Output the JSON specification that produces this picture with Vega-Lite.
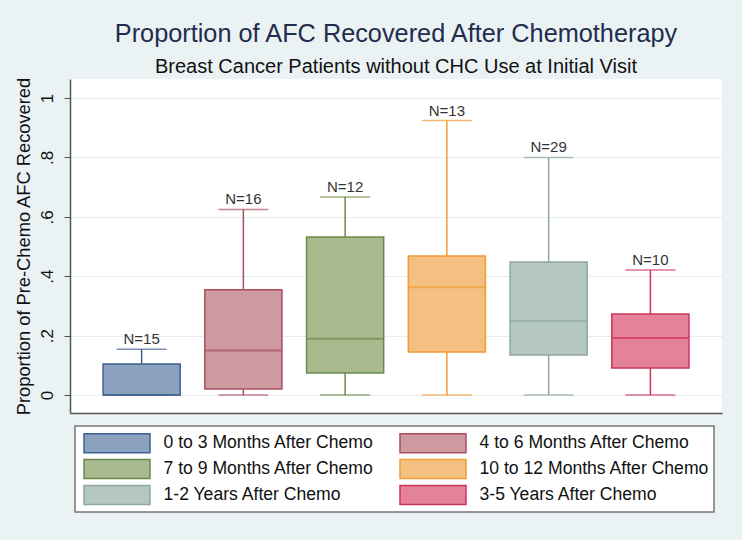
{
  "$schema": "https://vega.github.io/schema/vega-lite/v6.json",
  "width": 652,
  "height": 334,
  "autosize": "none",
  "padding": {"left": 70, "top": 79, "right": 20, "bottom": 127},
  "background": "#eaf2f3",
  "view": {"fill": "white", "stroke": null},
  "config": {
    "legend": {
      "fillColor": "white",
      "strokeColor": "#777777",
      "padding": 4,
      "columnPadding": 21,
      "rowPadding": 0,
      "symbolStrokeWidth": 1.5,
      "symbolOffset": 4,
      "labelOffset": 54.5,
      "labelFont": "Liberation Sans",
      "labelFontSize": 17.6,
      "labelColor": "#111111",
      "labelLimit": 400
    }
  },
  "title": {
    "text": "Proportion of AFC Recovered After Chemotherapy",
    "subtitle": "Breast Cancer Patients without CHC Use at Initial Visit",
    "anchor": "middle",
    "font": "Liberation Sans",
    "fontSize": 25.3,
    "fontWeight": "normal",
    "color": "#232c4d",
    "subtitleFont": "Liberation Sans",
    "subtitleFontSize": 20,
    "subtitleColor": "#111111",
    "subtitlePadding": 10,
    "offset": 0
  },
  "data": {
    "values": [
      {"group": "0 to 3 Months After Chemo", "label": "N=15", "lo": 0, "q1": 0, "med": 0, "q3": 0.104, "hi": 0.154},
      {"group": "4 to 6 Months After Chemo", "label": "N=16", "lo": 0, "q1": 0.02, "med": 0.15, "q3": 0.354, "hi": 0.625},
      {"group": "7 to 9 Months After Chemo", "label": "N=12", "lo": 0, "q1": 0.074, "med": 0.189, "q3": 0.532, "hi": 0.667},
      {"group": "10 to 12 Months After Chemo", "label": "N=13", "lo": 0, "q1": 0.145, "med": 0.363, "q3": 0.468, "hi": 0.924},
      {"group": "1-2 Years After Chemo", "label": "N=29", "lo": 0, "q1": 0.135, "med": 0.249, "q3": 0.448, "hi": 0.8},
      {"group": "3-5 Years After Chemo", "label": "N=10", "lo": 0, "q1": 0.091, "med": 0.192, "q3": 0.273, "hi": 0.421}
    ]
  },
  "encoding": {
    "x": {
      "field": "group",
      "type": "nominal",
      "sort": null,
      "scale": {"paddingInner": 0.242, "paddingOuter": 0.325},
      "axis": {"labels": false, "ticks": false, "title": null, "domainColor": "#555555", "domainWidth": 1.5, "grid": false}
    }
  },
  "layer": [
    {
      "mark": {"type": "rule", "strokeWidth": 1.5},
      "encoding": {
        "y": {
          "field": "lo",
          "type": "quantitative",
          "scale": {"domain": [-0.0606, 1.064], "nice": false, "zero": false},
          "axis": {
            "values": [0, 0.2, 0.4, 0.6, 0.8, 1],
            "labelExpr": "replace(format(datum.value, '~g'), '0.', '.')",
            "title": "Proportion of Pre-Chemo AFC Recovered",
            "titleFont": "Liberation Sans",
            "titleFontSize": 18.3,
            "titleFontWeight": "normal",
            "titleColor": "#111111",
            "titlePadding": 5,
            "labelFont": "Liberation Sans",
            "labelFontSize": 17,
            "labelColor": "#111111",
            "labelAngle": -90,
            "labelAlign": "center",
            "labelBaseline": "bottom",
            "labelPadding": 8,
            "tickSize": 6,
            "tickColor": "#555555",
            "domainColor": "#555555",
            "domainWidth": 1.5,
            "grid": true,
            "gridColor": "#e6ecef",
            "gridWidth": 1
          }
        },
        "y2": {"field": "hi"},
        "color": {"field": "group", "type": "nominal", "sort": null, "legend": null,
          "scale": {"range": ["#3e6290", "#a9505f", "#6c8a4a", "#f29c33", "#8ea79f", "#d0335a"]}}
      }
    },
    {
      "mark": {"type": "tick", "size": 50, "thickness": 1.5},
      "encoding": {
        "y": {"field": "hi", "type": "quantitative"},
        "color": {"field": "group", "type": "nominal", "sort": null, "legend": null}
      }
    },
    {
      "mark": {"type": "tick", "size": 50, "thickness": 1.5},
      "encoding": {
        "y": {"field": "lo", "type": "quantitative"},
        "color": {"field": "group", "type": "nominal", "sort": null, "legend": null}
      }
    },
    {
      "mark": {"type": "bar", "strokeWidth": 1.5},
      "encoding": {
        "y": {"field": "q1", "type": "quantitative"},
        "y2": {"field": "q3"},
        "fill": {
          "field": "group", "type": "nominal", "sort": null,
          "scale": {"range": ["#8aa2bd", "#cc9aa0", "#a9bb8e", "#f3c081", "#b4c7c0", "#e4829a"]},
          "legend": {
            "title": null,
            "orient": "none",
            "legendX": 5,
            "legendY": 347,
            "direction": "horizontal",
            "columns": 2,
            "symbolType": "M-1,-0.79H4.5V0.79H-1Z",
            "symbolSize": 576,
            "encode": {"legend": {"update": {"strokeWidth": {"value": 1.5}}}}
          }
        },
        "stroke": {
          "field": "group", "type": "nominal", "sort": null,
          "scale": {"range": ["#3e6290", "#a9505f", "#6c8a4a", "#f29c33", "#8ea79f", "#d0335a"]},
          "legend": {
            "title": null,
            "orient": "none",
            "legendX": 5,
            "legendY": 347,
            "direction": "horizontal",
            "columns": 2,
            "symbolType": "M-1,-0.79H4.5V0.79H-1Z",
            "symbolSize": 576,
            "encode": {"legend": {"update": {"strokeWidth": {"value": 1.5}}}}
          }
        }
      }
    },
    {
      "mark": {"type": "tick", "size": 77, "thickness": 2},
      "encoding": {
        "y": {"field": "med", "type": "quantitative"},
        "color": {"field": "group", "type": "nominal", "sort": null, "legend": null}
      }
    },
    {
      "mark": {"type": "text", "baseline": "bottom", "dy": -2, "font": "Liberation Sans", "fontSize": 15, "color": "#333333"},
      "encoding": {
        "y": {"field": "hi", "type": "quantitative"},
        "text": {"field": "label"}
      }
    }
  ]
}
